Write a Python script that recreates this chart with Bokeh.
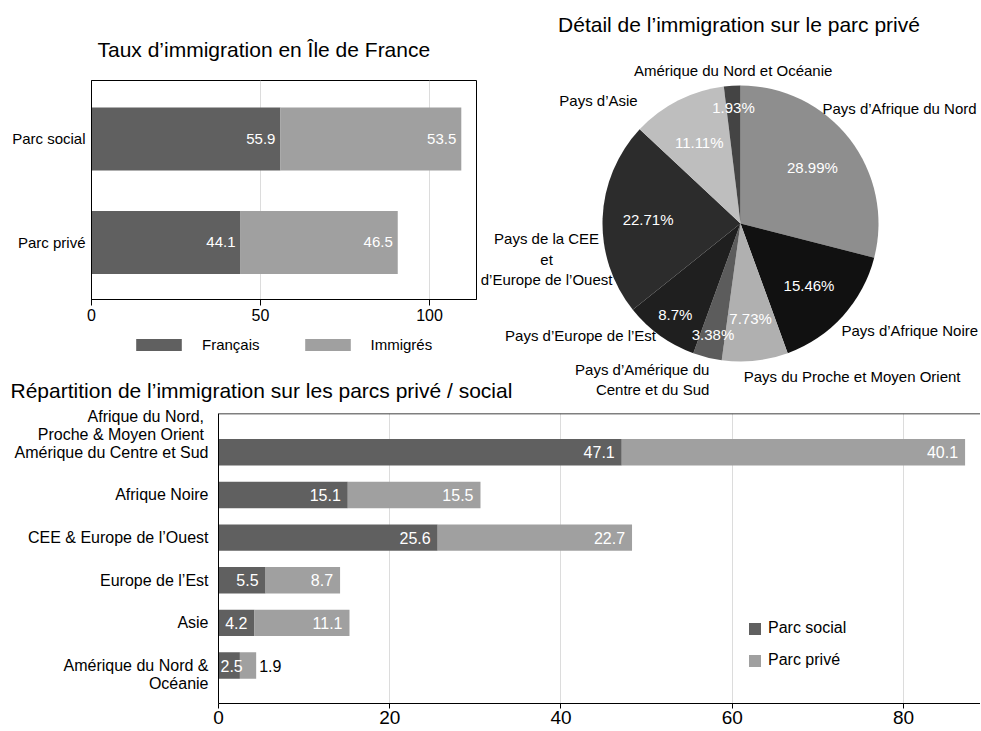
import math
from bokeh.plotting import figure
from bokeh.models import (Range1d, FixedTicker, Legend, LegendItem, Title, Span,
                          ColumnDataSource)
from bokeh.layouts import row, column
from bokeh.core.properties import value
from bokeh.embed import file_html
from bokeh.resources import INLINE

FONT = "Liberation Sans"
DARK = "#606060"
LIGHT = "#a0a0a0"
GRID = "#dcdcdc"

# ---------------- data: chart 1 ----------------
parcs = ["Parc social", "Parc privé"]
francais = [55.9, 44.1]
immigres = [53.5, 46.5]
series1 = ["Français", "Immigrés"]
ticks1 = [0, 50, 100]

# ---------------- data: chart 2 (pie) ----------------
pie_labels = ["Pays d’Afrique du Nord", "Pays d’Afrique Noire", "Pays du Proche et Moyen Orient",
              "Pays d’Amérique du\nCentre et du Sud", "Pays d’Europe de l’Est",
              "Pays de la CEE\net\nd’Europe de l’Ouest", "Pays d’Asie", "Amérique du Nord et Océanie"]
pie_values = [28.99, 15.46, 7.73, 3.38, 8.7, 22.71, 11.11, 1.93]

# ---------------- data: chart 3 ----------------
regions = ["Afrique du Nord, \nProche & Moyen Orient \nAmérique du Centre et Sud\n\n",
           "Afrique Noire", "CEE & Europe de l’Ouest", "Europe de l’Est", "Asie",
           "\nAmérique du Nord &\nOcéanie"]
parc_social = [47.1, 15.1, 25.6, 5.5, 4.2, 2.5]
parc_prive = [40.1, 15.5, 22.7, 8.7, 11.1, 1.9]
series3 = ["Parc social", "Parc privé"]
ticks3 = [0, 20, 40, 60, 80]

# ---------------- styles ----------------
pie_colors = ["#8e8e8e", "#111111", "#b0b0b0", "#5c5c5c", "#1f1f1f", "#2c2c2c", "#bebebe", "#444444"]
pct_radius = [0.66, 0.67, 0.69, 0.83, 0.81, 0.67, 0.66, 0.84]
lab_align = ["center", "center", "center", "right", "center", "center", "center", "center"]
lab_dx = [50, 67, 97, 2, -79.5, -56, -79.5, 1]
lab_dy = [-30, 14, 16, 22, 0, 41, 0, -15]


def style_axis(ax, size):
    ax.major_label_text_font = FONT
    ax.major_label_text_font_size = size
    ax.major_label_text_color = "black"
    ax.axis_line_color = "black"
    ax.major_tick_line_color = "black"
    ax.minor_tick_line_color = None


def fmt(v):
    return f"{v:g}"


def overrides(labels, pos):
    d = {}
    for l, y in zip(labels, pos):
        d[y] = l
        d[str(y)] = l
    return d


# ======================= chart 1 =======================
y1 = [len(parcs) - 1 - i for i in range(len(parcs))]
p1 = figure(width=478, height=330, x_range=Range1d(0, 113.9), y_range=Range1d(-0.551, 1.565),
            output_backend="svg", toolbar_location=None,
            min_border_left=91, min_border_right=2, min_border_top=80, min_border_bottom=31)
p1.title = Title(text="Taux d’immigration en Île de France", align="left", offset=6,
                 text_font=FONT, text_font_size="21px", text_font_style="normal",
                 text_color="black", standoff=39)
tot1 = [a + b for a, b in zip(francais, immigres)]
src1 = ColumnDataSource(dict(y=y1, a=francais, b=tot1,
                             ta=[fmt(v) for v in francais], tb=[fmt(v) for v in immigres]))
p1.hbar(y="y", left=0, right="a", height=0.61, source=src1, fill_color=DARK, line_color=None)
p1.hbar(y="y", left="a", right="b", height=0.61, source=src1, fill_color=LIGHT, line_color=None)
p1.text(x="a", y="y", text="ta", source=src1, text_align="right", text_baseline="middle",
        x_offset=-5, text_color="white", text_font=value(FONT), text_font_size="15px")
p1.text(x="b", y="y", text="tb", source=src1, text_align="right", text_baseline="middle",
        x_offset=-5, text_color="white", text_font=value(FONT), text_font_size="15px")
p1.outline_line_color = "black"
p1.ygrid.grid_line_color = None
p1.xgrid.grid_line_color = GRID
p1.xgrid.ticker = FixedTicker(ticks=ticks1)
p1.xaxis.ticker = FixedTicker(ticks=ticks1)
p1.yaxis.ticker = FixedTicker(ticks=y1)
p1.yaxis.major_label_overrides = overrides(parcs, y1)
style_axis(p1.xaxis[0], "16px")
style_axis(p1.yaxis[0], "15px")
p1.xaxis.major_tick_out = 6
p1.xaxis.major_tick_in = 0
p1.xaxis.major_label_standoff = 3
p1.yaxis.major_tick_out = 0
p1.yaxis.major_tick_in = 0
p1.yaxis.major_label_standoff = 6

# legend strip under chart 1 (1 data unit = 1 px)
p1b = figure(width=478, height=68, x_range=Range1d(0, 478), y_range=Range1d(0, 68),
             x_axis_location=None, y_axis_location=None, output_backend="svg",
             toolbar_location=None, min_border=0)
p1b.grid.grid_line_color = None
p1b.outline_line_color = None
d1 = p1b.hbar(y=[-500], left=[0], right=[1], height=1, fill_color=DARK, line_color=None)
d2 = p1b.hbar(y=[-500], left=[0], right=[1], height=1, fill_color=LIGHT, line_color=None)
leg1 = Legend(items=[LegendItem(label=series1[0], renderers=[d1]),
                     LegendItem(label=series1[1], renderers=[d2])],
              orientation="horizontal", location=(130, 45),
              glyph_width=57, glyph_height=15, label_standoff=15, spacing=39,
              padding=0, margin=0, label_height=15,
              label_text_font=FONT, label_text_font_size="15px", label_text_color="black",
              border_line_color=None, background_fill_alpha=0)
p1b.add_layout(leg1)

# ======================= chart 2 (pie) =======================
p2 = figure(width=502, height=398, x_range=Range1d(-262, 240), y_range=Range1d(-175, 223),
            x_axis_location=None, y_axis_location=None, output_backend="svg",
            toolbar_location=None, min_border=0)
p2.grid.grid_line_color = None
p2.outline_line_color = None
R = 138
total = sum(pie_values)
cum = 0.0
st, en, px, py, lx, ly, pct = [], [], [], [], [], [], []
for i, v in enumerate(pie_values):
    a0 = math.pi / 2 - 2 * math.pi * cum / total
    a1 = math.pi / 2 - 2 * math.pi * (cum + v) / total
    mid = (a0 + a1) / 2
    st.append(a1)
    en.append(a0)
    px.append(pct_radius[i] * R * math.cos(mid))
    py.append(pct_radius[i] * R * math.sin(mid))
    lx.append(R * math.cos(mid))
    ly.append(R * math.sin(mid))
    pct.append(fmt(v) + "%")
    cum += v
src2 = ColumnDataSource(dict(s=st, e=en, c=pie_colors, px=px, py=py, pct=pct))
p2.wedge(x=0, y=0, radius=R, start_angle="s", end_angle="e", fill_color="c", line_color=None,
         source=src2)
p2.text(x="px", y="py", text="pct", source=src2, text_align="center", text_baseline="middle",
        text_color="white", text_font=value(FONT), text_font_size="15px")
for al in ("center", "right"):
    idx = [i for i in range(len(pie_labels)) if lab_align[i] == al]
    s = ColumnDataSource(dict(x=[lx[i] for i in idx], y=[ly[i] for i in idx],
                              t=[pie_labels[i] for i in idx],
                              dx=[lab_dx[i] for i in idx], dy=[lab_dy[i] for i in idx]))
    p2.text(x="x", y="y", text="t", x_offset="dx", y_offset="dy", source=s, text_align=al,
            text_baseline="middle", text_color="black", text_font=value(FONT),
            text_font_size="15px", text_line_height=1.2)
p2.text(x=[-1.5], y=[199], text=["Détail de l’immigration sur le parc privé"], text_align="center",
        text_baseline="middle", text_color="black", text_font=value(FONT),
        text_font_size="21px")

# ======================= chart 3 =======================
y3 = [len(regions) - 1 - i for i in range(len(regions))]
p3 = figure(width=980, height=370, x_range=Range1d(0, 89.0), y_range=Range1d(-0.89, 5.91),
            output_backend="svg", toolbar_location=None,
            min_border_left=218, min_border_right=0, min_border_top=53, min_border_bottom=27)
p3.margin = (-38, 0, 0, 0)
p3.background_fill_color = None
p3.border_fill_color = None
p3.title = Title(text="Répartition de l’immigration sur les parcs privé / social", align="left",
                 offset=-208, text_font=FONT, text_font_size="21px", text_font_style="normal",
                 text_color="black", standoff=23)
tot3 = [a + b for a, b in zip(parc_social, parc_prive)]
src3 = ColumnDataSource(dict(y=y3, a=parc_social, b=tot3))
r3a = p3.hbar(y="y", left=0, right="a", height=0.62, source=src3, fill_color=DARK, line_color=None)
r3b = p3.hbar(y="y", left="a", right="b", height=0.62, source=src3, fill_color=LIGHT, line_color=None)

PXU = 762 / 89.0
groups = {"in": dict(x=[], y=[], t=[]), "start": dict(x=[], y=[], t=[]), "out": dict(x=[], y=[], t=[])}
for i in range(len(regions)):
    for left, val in ((0.0, parc_social[i]), (parc_social[i], parc_prive[i])):
        tw = len(fmt(val)) * 8.2
        seg = val * PXU
        if seg >= tw + 10:
            g = groups["in"]; g["x"].append(left + val)
        elif left == 0.0:
            g = groups["start"]; g["x"].append(left)
        else:
            g = groups["out"]; g["x"].append(left + val)
        g["y"].append(y3[i]); g["t"].append(fmt(val))
p3.text(x="x", y="y", text="t", source=ColumnDataSource(groups["in"]), text_align="right",
        text_baseline="middle", x_offset=-7, text_color="white", text_font=value(FONT),
        text_font_size="16px")
p3.text(x="x", y="y", text="t", source=ColumnDataSource(groups["start"]), text_align="left",
        text_baseline="middle", x_offset=2, text_color="white", text_font=value(FONT),
        text_font_size="16px")
p3.text(x="x", y="y", text="t", source=ColumnDataSource(groups["out"]), text_align="left",
        text_baseline="middle", x_offset=3, text_color="black", text_font=value(FONT),
        text_font_size="16px")
p3.outline_line_color = None
p3.ygrid.grid_line_color = None
p3.xgrid.grid_line_color = GRID
p3.xgrid.ticker = FixedTicker(ticks=ticks3)
p3.xaxis.ticker = FixedTicker(ticks=ticks3)
p3.yaxis.ticker = FixedTicker(ticks=y3)
p3.yaxis.major_label_overrides = overrides(regions, y3)
style_axis(p3.xaxis[0], "19px")
style_axis(p3.yaxis[0], "16px")
p3.xaxis.major_tick_out = 5
p3.xaxis.major_tick_in = 0
p3.xaxis.major_label_standoff = 2
p3.yaxis.major_tick_out = 0
p3.yaxis.major_tick_in = 0
p3.yaxis.major_label_standoff = 10
p3.yaxis.major_label_text_line_height = 1.05
p3.add_layout(Span(location=5.91, dimension="width", line_color="black", line_width=1.5))
leg3 = Legend(items=[LegendItem(label=series3[0], renderers=[r3a]),
                     LegendItem(label=series3[1], renderers=[r3b])],
              location=(529, 34), orientation="vertical",
              glyph_width=15, glyph_height=15, label_standoff=6, spacing=14,
              padding=0, margin=0, label_height=15,
              label_text_font=FONT, label_text_font_size="16px", label_text_color="black",
              border_line_color=None, background_fill_alpha=0)
p3.add_layout(leg3)

left_col = column(column(p1), column(p1b))
layout = column(row(left_col, p2), p3)
open("out.html", "w").write(file_html(layout, INLINE))
